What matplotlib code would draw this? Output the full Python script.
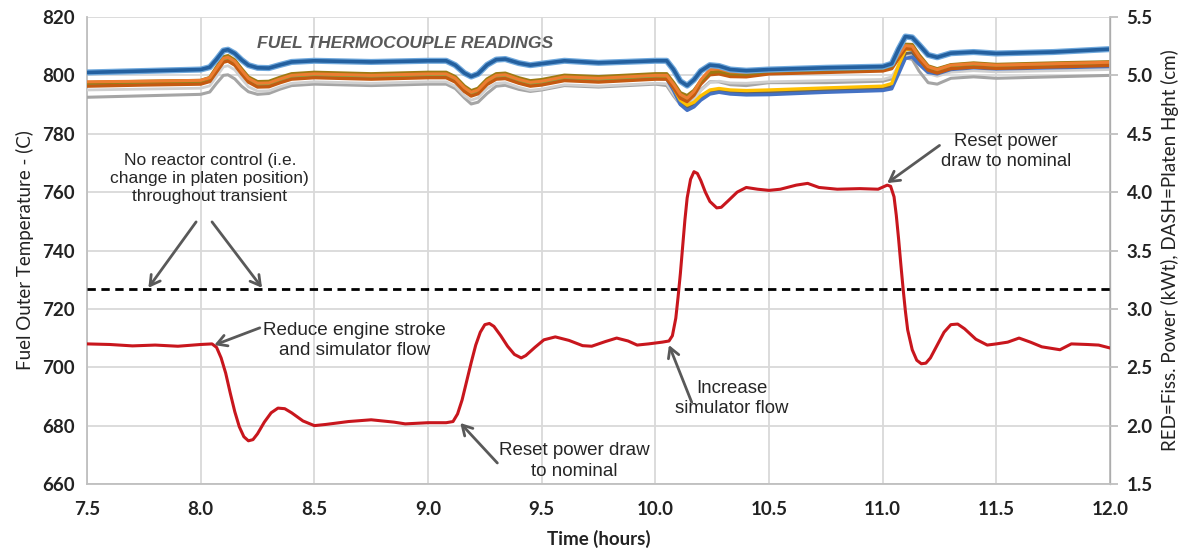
import matplotlib
matplotlib.use("Agg")
import matplotlib.pyplot as plt
import matplotlib.patheffects as pe

# ---------------- data ----------------
# time base shared by the fuel thermocouple traces (hours)
t_tc = [7.5, 7.75, 8.0, 8.04, 8.07, 8.1, 8.12, 8.15, 8.18, 8.21, 8.25, 8.3, 8.35, 8.4,
        8.5, 8.75, 9.0, 9.08, 9.12, 9.16, 9.19, 9.22, 9.26, 9.3, 9.34, 9.4, 9.45, 9.5,
        9.6, 9.75, 10.0, 10.05, 10.08, 10.11, 10.14, 10.17, 10.2, 10.24, 10.28, 10.33,
        10.4, 10.5, 10.75, 11.0, 11.04, 11.07, 11.1, 11.13, 11.16, 11.2, 11.24, 11.3,
        11.4, 11.5, 11.75, 12.0]

# fuel outer temperatures (C)
tc_top = [801, 801.5, 802, 802.8, 805.5, 808.5, 808.8, 807.5, 805.3, 803.5, 802.6, 802.5, 803.6, 804.6,
          805, 804.6, 805, 805, 803.5, 800.8, 799.6, 800.5, 803.6, 805.4, 805.6, 804.2, 803.5, 804,
          805, 804.3, 805, 805, 802, 798, 796.5, 798.5, 801.5, 803.5, 803.2, 802,
          801.6, 802, 802.6, 803, 804, 809, 813.3, 813, 810.5, 807, 806.2, 807.6,
          808, 807.5, 808, 809]
tc_orange = [797.8, 798, 798.3, 799.2, 802.5, 805.8, 806.2, 804.8, 801.8, 799, 797.3, 797.4, 798.8, 800,
             800.5, 800, 800.5, 800.5, 799, 795.8, 794.2, 795, 798.2, 800, 800.2, 798.6, 797.6, 798,
             799.5, 799, 800, 800, 797, 793.5, 792.2, 794.5, 798.5, 802, 802.2, 801.2,
             801, 802, 802.5, 803, 803.8, 807, 810.2, 810, 806.5, 803, 802, 803.5,
             804, 803.5, 804, 804.5]
tc_olive = [797.5, 797.9, 798.2, 799.2, 802.8, 806.3, 806.7, 805.2, 802.2, 799.4, 797.8, 797.9, 799.3, 800.5,
            801, 800.5, 801, 801, 799.5, 796.3, 794.7, 795.5, 798.7, 800.5, 800.7, 799.1, 798.1, 798.5,
            800, 799.5, 800.5, 800.5, 797.5, 794, 793, 794.8, 798, 801, 801.4, 800.6,
            800.5, 801.5, 802, 802.5, 803.3, 807, 810.6, 810.5, 807, 803.2, 802.2, 803.6,
            804.2, 803.7, 804.2, 804.6]
tc_green = [797.2, 797.5, 797.8, 798.7, 802, 805.4, 805.8, 804.4, 801.4, 798.6, 796.9, 797, 798.4, 799.6,
            800.1, 799.6, 800.1, 800.1, 798.6, 795.4, 793.8, 794.6, 797.8, 799.6, 799.8, 798.2, 797.2, 797.6,
            799.1, 798.6, 799.6, 799.6, 796.6, 793, 791.8, 794, 797.5, 800.6, 800.9, 800.1,
            800, 801, 801.5, 802, 802.8, 806.4, 809.8, 809.7, 806.2, 802.5, 801.5, 803,
            803.5, 803, 803.5, 804]
tc_rust = [796.3, 796.7, 797, 797.9, 801.2, 804.5, 804.9, 803.5, 800.5, 797.7, 796, 796.1, 797.5, 798.7,
           799.2, 798.7, 799.2, 799.2, 797.7, 794.5, 792.9, 793.7, 796.9, 798.7, 798.9, 797.3, 796.3, 796.7,
           798.2, 797.7, 798.7, 798.7, 795.7, 792.2, 791, 793.2, 797, 800.2, 800.5, 799.6,
           799.5, 800.5, 801, 801.5, 802.3, 805.8, 809.2, 809, 805.5, 801.8, 800.8, 802.3,
           802.8, 802.4, 802.9, 803.4]
tc_blue = [796.8, 797.1, 797.4, 798.2, 801.4, 804.8, 805.2, 803.8, 800.8, 798, 796.4, 796.5, 797.9, 799.1,
           799.6, 799.1, 799.6, 799.6, 798, 794.8, 793.2, 794, 797.2, 799, 799.2, 797.6, 796.6, 797,
           798.5, 798, 799, 798.8, 794.8, 790, 788, 789.2, 791.5, 793.6, 794.2, 793.6,
           793.3, 793.4, 794.2, 794.8, 795.4, 800.5, 805.8, 806.3, 803.8, 801, 800.5, 802,
           802.6, 802.2, 802.6, 803]
tc_darkgray = [797.2, 797.5, 797.8, 798.6, 801.8, 805.2, 805.6, 804.2, 801.2, 798.4, 796.8, 796.9, 798.3, 799.5,
               800, 799.5, 800, 800, 798.4, 795.2, 793.6, 794.4, 797.6, 799.4, 799.6, 798, 797, 797.4,
               798.9, 798.4, 799.4, 799.2, 795.3, 790.8, 789, 790.2, 792.4, 794.4, 795, 794.4,
               794.1, 794.2, 795, 795.6, 796.3, 802, 807.5, 807.8, 805, 802, 801.3, 802.8,
               803.3, 802.9, 803.3, 803.7]
tc_yellow = [797.5, 797.8, 798.1, 799, 802.3, 805.6, 806, 804.6, 801.6, 798.8, 797.1, 797.2, 798.6, 799.8,
             800.3, 799.8, 800.3, 800.3, 798.8, 795.6, 794, 794.8, 798, 799.8, 800, 798.4, 797.4, 797.8,
             799.3, 798.8, 799.8, 799.6, 795.8, 791.5, 789.8, 790.8, 793, 795, 795.5, 795,
             794.8, 795, 795.7, 796.3, 797.2, 803.5, 808.8, 809, 806, 802.8, 802, 803.5,
             804, 803.5, 804, 804.4]
tc_silver = [795, 795.3, 795.6, 796.4, 799.6, 802.9, 803.3, 801.9, 798.9, 796.1, 794.6, 794.7, 796.1, 797.3,
             797.8, 797.3, 797.8, 797.8, 796.3, 793.1, 791.5, 792.3, 795.5, 797.3, 797.5, 795.9, 794.9, 795.3,
             796.8, 796.3, 797.3, 797.1, 793.6, 790.2, 789.2, 791.5, 794.8, 797.6, 798, 797.4,
             797.3, 797.8, 798.2, 798.6, 799.5, 803.5, 807, 807, 804, 800.6, 799.7, 801.1,
             801.6, 801.2, 801.6, 802]
tc_gray = [792.5, 793, 793.5, 794.3, 797.3, 800, 800.2, 798.8, 796.3, 794.4, 793.5, 793.8, 795.3, 796.5,
           797, 796.5, 797, 797, 795.5, 792.3, 790.2, 790.8, 793.8, 796.3, 796.6, 795.2, 794.5, 795,
           796.5, 796, 797, 796.5, 793, 790, 789.5, 791.5, 795, 797.8, 797.8, 796.8,
           796.5, 797.5, 797.5, 798, 798.8, 802.5, 806, 805.5, 801.5, 797.5, 797, 799,
           799.5, 799, 799.5, 800]

# fission power (kWt)
t_pow = [7.5, 7.6, 7.7, 7.8, 7.9, 8.0, 8.05, 8.07, 8.09, 8.11, 8.13, 8.15, 8.17, 8.19,
         8.21, 8.23, 8.25, 8.28, 8.31, 8.34, 8.37, 8.4, 8.45, 8.5, 8.55, 8.65, 8.75,
         8.85, 8.9, 9.0, 9.08, 9.11, 9.13, 9.15, 9.17, 9.19, 9.21, 9.23, 9.25, 9.27,
         9.29, 9.32, 9.35, 9.38, 9.41, 9.43, 9.47, 9.51, 9.56, 9.62, 9.68, 9.72, 9.78,
         9.83, 9.88, 9.92, 9.97, 10.03, 10.06, 10.075, 10.09, 10.1, 10.11, 10.12, 10.13,
         10.14, 10.155, 10.17, 10.185, 10.2, 10.22, 10.24, 10.27, 10.29, 10.32, 10.36,
         10.4, 10.45, 10.5, 10.55, 10.62, 10.67, 10.72, 10.8, 10.9, 10.98, 11.02,
         11.035, 11.05, 11.06, 11.07, 11.08, 11.09, 11.1, 11.11, 11.13, 11.15, 11.17,
         11.19, 11.21, 11.24, 11.27, 11.3, 11.33, 11.36, 11.41, 11.46, 11.5, 11.55,
         11.6, 11.65, 11.7, 11.78, 11.83, 11.9, 11.95, 12.0]
power = [2.700, 2.695, 2.683, 2.690, 2.680, 2.695, 2.700, 2.670, 2.580, 2.450, 2.280, 2.120,
         1.990, 1.905, 1.870, 1.880, 1.930, 2.030, 2.110, 2.150, 2.145, 2.110, 2.040,
         2.000, 2.010, 2.035, 2.050, 2.030, 2.015, 2.025, 2.025, 2.035, 2.100, 2.220,
         2.380, 2.540, 2.690, 2.800, 2.865, 2.875, 2.850, 2.770, 2.680, 2.610, 2.580,
         2.600, 2.670, 2.735, 2.760, 2.730, 2.685, 2.680, 2.720, 2.750, 2.725, 2.690,
         2.700, 2.715, 2.725, 2.770, 2.920, 3.100, 3.300, 3.530, 3.760, 3.950, 4.110,
         4.175, 4.160, 4.100, 4.000, 3.920, 3.865, 3.870, 3.925, 4.000, 4.040, 4.025,
         4.015, 4.025, 4.060, 4.075, 4.040, 4.025, 4.030, 4.025, 4.060, 4.050, 3.960,
         3.800, 3.600, 3.380, 3.170, 2.980, 2.820, 2.650, 2.560, 2.530, 2.535, 2.580,
         2.690, 2.800, 2.865, 2.870, 2.830, 2.740, 2.690, 2.700, 2.715, 2.750, 2.715,
         2.675, 2.650, 2.700, 2.695, 2.690, 2.665]

# platen height (cm), held constant
t_platen = [7.5, 12.0]
platen = [3.17, 3.17]

x_ticks = [7.5, 8.0, 8.5, 9.0, 9.5, 10.0, 10.5, 11.0, 11.5, 12.0]
y_left_ticks = [660, 680, 700, 720, 740, 760, 780, 800, 820]
y_right_ticks = [1.5, 2.0, 2.5, 3.0, 3.5, 4.0, 4.5, 5.0, 5.5]

# ---------------- figure ----------------
fig = plt.figure(figsize=(11.84, 5.5), dpi=100)
ax = fig.add_axes([87 / 1184, 1 - 484 / 550, (1110 - 87) / 1184, (484 - 17) / 550])
ax2 = ax.twinx()

tick_font = dict(family=["Lato", "DejaVu Sans"], size=13.5, weight="bold", color="#222222")
note_family = ["Liberation Sans", "DejaVu Sans"]

# thermocouple traces
tc_series = [
    (tc_gray, "#A5A5A5", 2.2),
    (tc_silver, "#D0D0D0", 2.0),
    (tc_darkgray, "#636363", 2.2),
    (tc_blue, "#4472C4", 2.4),
    (tc_yellow, "#FFC000", 2.4),
    (tc_green, "#70AD47", 1.6),
    (tc_rust, "#C55A11", 2.4),
    (tc_olive, "#9C7A12", 2.6),
    (tc_orange, "#ED7D31", 2.2),
]
for vals, col, lw in tc_series:
    ax.plot(t_tc, vals, color=col, lw=lw, solid_capstyle="round",
            solid_joinstyle="round", zorder=3)
ax.plot(t_tc, tc_top, color="#24609F", lw=2.6, zorder=4, solid_joinstyle="round",
        path_effects=[pe.Stroke(linewidth=4.4, foreground="#6FA8DC"), pe.Normal()])

ax.set_xlim(7.5, 12.0)
ax.set_ylim(660, 820)
ax.set_xticks(x_ticks)
ax.set_xticklabels([f"{v:.1f}" for v in x_ticks], **tick_font)
ax.set_yticks(y_left_ticks)
ax.set_yticklabels([str(v) for v in y_left_ticks], **tick_font)
ax.grid(True, color="#D9D9D9", lw=1.3, zorder=0)
ax.set_axisbelow(True)
ax.tick_params(axis="both", length=0, pad=9)
ax.tick_params(axis="x", pad=12)

ax.spines["top"].set_visible(False)
ax2.spines["top"].set_visible(False)
for sp in [ax.spines["left"], ax.spines["bottom"], ax2.spines["right"]]:
    sp.set_color("#BFBFBF")
    sp.set_linewidth(1.3)
ax2.spines["left"].set_visible(False)
ax2.spines["bottom"].set_visible(False)

ax.set_xlabel("Time (hours)", family=["Lato", "DejaVu Sans"], size=13.5,
              weight="bold", color="#222222", labelpad=9)
ax.set_ylabel("Fuel Outer Temperature - (C)", family=["Lato", "DejaVu Sans"], size=13.5,
              color="#222222", labelpad=6)

# power and platen height on the secondary axis
ax2.set_ylim(1.5, 5.5)
ax2.set_yticks(y_right_ticks)
ax2.set_yticklabels([f"{v:.1f}" for v in y_right_ticks], **tick_font)
ax2.tick_params(axis="y", length=6, width=1.3, color="#BFBFBF", pad=6)
ax2.set_ylabel("RED=Fiss. Power (kWt), DASH=Platen Hght (cm)",
               family=["Lato", "DejaVu Sans"], size=13.5, color="#222222", labelpad=6)

ax2.plot(t_platen, platen, color="black", lw=2.0, ls=(0, (3, 2)), zorder=3)
ax2.plot(t_pow, power, color="#C8161D", lw=2.2, zorder=4, solid_joinstyle="round")

# title and annotations
ax2.text(8.9, 811, "FUEL THERMOCOUPLE READINGS", transform=ax.transData,
         family=note_family, size=12.6, weight="bold",
         style="italic", color="#595959", ha="center", va="center")

arrow = dict(arrowstyle="->,head_length=0.7,head_width=0.4", color="#595959", lw=2.0,
             shrinkA=0, shrinkB=0)


def note(x, y, text, size):
    ax2.text(x, y, text, transform=ax.transData, ha="center", va="center",
             linespacing=1.25, family=note_family, size=size, color="#262626")


def pointer(x0, y0, x1, y1):
    ax2.annotate("", xy=(x1, y1), xytext=(x0, y0), xycoords=ax.transData,
                 textcoords=ax.transData, arrowprops=arrow)


note(8.04, 764.5, "No reactor control (i.e.\nchange in platen position)\nthroughout transient", 12.5)
pointer(7.98, 749.8, 7.77, 727.2)
pointer(8.05, 749.8, 8.27, 727.2)

note(8.677, 709.2, "Reduce engine stroke\nand simulator flow", 13.6)
pointer(8.26, 713.5, 8.06, 707.6)

note(9.642, 667.9, "Reset power draw\nto nominal", 13.5)
pointer(9.305, 667.2, 9.142, 680.9)

note(10.338, 689.3, "Increase\nsimulator flow", 13.4)
pointer(10.16, 688, 10.06, 707.6)

note(11.543, 773.9, "Reset power\ndraw to nominal", 13.3)
pointer(11.25, 776, 11.02, 763.1)

fig.savefig("out.png", dpi=100, facecolor="white")
